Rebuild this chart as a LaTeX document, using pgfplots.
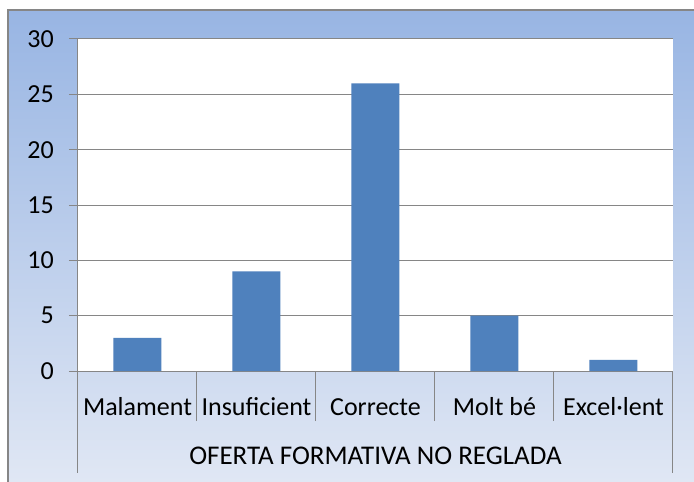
\documentclass[border=0pt]{standalone}
\usepackage{pgfplots}
\pgfplotsset{compat=1.18}
\usepackage{fontspec}
\setmainfont{Carlito}
\definecolor{barblue}{RGB}{79,129,189}
\definecolor{gridgray}{RGB}{134,134,134}
\definecolor{bgtop}{RGB}{152,181,227}
\definecolor{bgbot}{RGB}{224,231,244}
\begin{document}
\begin{tikzpicture}
\useasboundingbox (-78pt,-111pt) rectangle (616pt,371pt);
\fill[white] (-78pt,-111pt) rectangle (616pt,371pt);
\shade[top color=bgtop,bottom color=bgbot] (-70pt,-111pt) rectangle (616pt,361pt);
\draw[gridgray,line width=1.5pt] (-70pt,-111pt) -- (-70pt,361pt) -- (616pt,361pt);
\begin{axis}[
  at={(0pt,0pt)}, anchor=south west,
  scale only axis, width=595pt, height=332pt,
  xmin=-0.5, xmax=4.5, ymin=0, ymax=30,
  ytick={0,5,...,30},
  xtick={0,...,4},
  xticklabels={Malament,Insuficient,Correcte,Molt bé,Excel·lent},
  minor xtick={-0.5,0.5,1.5,2.5,3.5,4.5},
  axis lines*=left,
  axis line style={gridgray, line width=1pt},
  ymajorgrids, grid style={gridgray, line width=1pt},
  tick align=outside, major tick length=9pt, minor tick length=50pt,
  tick style={gridgray, line width=1pt},
  major x tick style={draw=none},
  axis background/.style={fill=white},
  /pgf/number format/assume math mode=true,
  ticklabel style={font=\fontsize{26}{30}\selectfont, text=black},
  yticklabel style={anchor=east, inner sep=0pt, xshift=-15pt},
  xticklabel style={anchor=base, inner sep=0pt, yshift=-35pt},
  xlabel={OFERTA FORMATIVA NO REGLADA},
  xlabel style={font=\fontsize{27}{30}\selectfont, at={(axis description cs:0.5,0)}, anchor=base, inner sep=0pt, yshift=-93pt},
  clip=false,
]
\addplot[ybar, bar width=48pt, fill=barblue, draw=none] coordinates {(0,3) (1,9) (2,26) (3,5) (4,1)};
\draw[gridgray,line width=1pt] (rel axis cs:0,0) -- ([yshift=-102pt]rel axis cs:0,0);
\draw[gridgray,line width=1pt] (rel axis cs:1,0) -- ([yshift=-102pt]rel axis cs:1,0);
\end{axis}
\end{tikzpicture}
\end{document}
